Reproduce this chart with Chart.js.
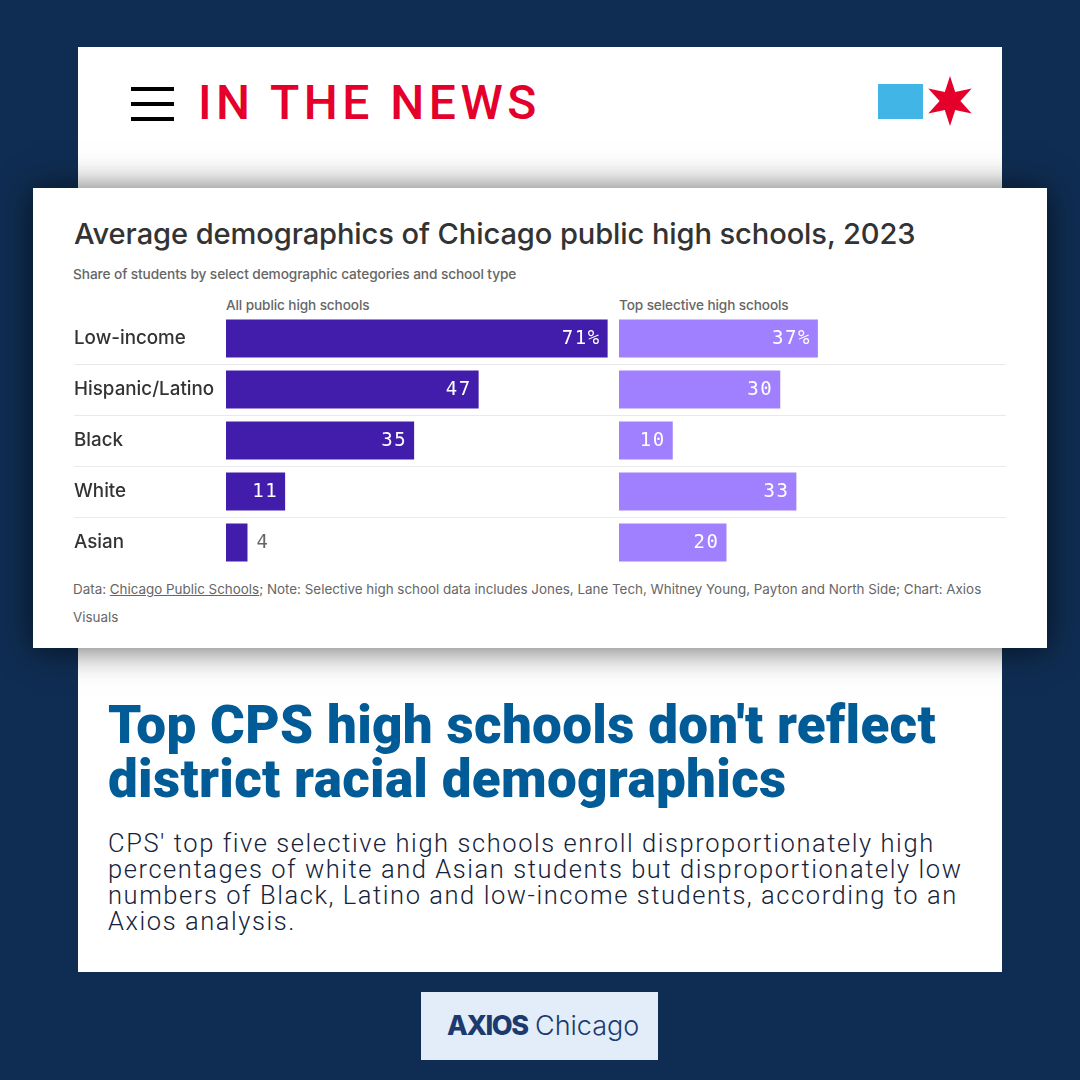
<!DOCTYPE html>
<html>
<head>
<meta charset="utf-8">
<title>Average demographics of Chicago public high schools, 2023</title>
<script src="https://cdn.jsdelivr.net/npm/chart.js@4"></script>
<style>
html, body { margin: 0; padding: 0; }
body { width: 1080px; height: 1080px; background: #0f2d52; position: relative; overflow: hidden; font-family: Inter, sans-serif; }
.abs { position: absolute; white-space: nowrap; }
#panel { left: 78px; top: 47px; width: 924px; height: 925px; background: #fff; }
.bar { left: 131px; width: 43px; height: 4px; background: #000; }
#kicker { left: 198px; top: 73px; font: 500 48px/60px Roboto, sans-serif; letter-spacing: 4.5px; color: #e4002b; }
#flag { left: 878px; top: 84px; width: 45px; height: 35px; background: #41b6e6; }
#star { left: 924px; top: 75px; }
#card { left: 33px; top: 188px; width: 1014px; height: 460px; background: #fff; box-shadow: 0 1px 32px rgba(0,0,0,.62); }
#title { left: 74px; top: 216px; font: 500 29.1px/36px Inter, sans-serif; color: #333; letter-spacing: -0.1px; }
#sub { left: 73px; top: 266px; font: 500 13.7px/17px Inter, sans-serif; color: #666; letter-spacing: -0.1px; }
.pane { top: 297px; font: 500 13.6px/17px Inter, sans-serif; color: #666; letter-spacing: -0.1px; }
.note { left: 73px; font: 400 13.4px/17px Inter, sans-serif; color: #666; }
canvas { position: absolute; }
#headline { left: 108px; top: 698px; font: 900 53px/54px Roboto, sans-serif; color: #005b96; letter-spacing: 0.3px; }
#body { left: 108px; top: 830px; font: 300 25.5px/26px Roboto, sans-serif; color: #15233a; letter-spacing: 1.57px; }
#brand { left: 421px; top: 992px; width: 237px; height: 68px; background: #e3edf9; }
#axios { left: 447px; top: 1008px; font: 800 27px/36px Inter, sans-serif; letter-spacing: -1.4px; color: #1c3a6e; }
#city { left: 535px; top: 1008px; font: 300 27px/36px Inter, sans-serif; color: #1c3a6e; }
</style>
</head>
<body>
<div class="abs" id="panel"></div>
<div class="abs bar" style="top:87px"></div>
<div class="abs bar" style="top:102px"></div>
<div class="abs bar" style="top:117px"></div>
<div class="abs" id="kicker">IN THE NEWS</div>
<div class="abs" id="flag"></div>
<svg class="abs" id="star" width="52" height="52" viewBox="-26 -26 52 52">
  <polygon fill="#e4002b" points="0,-25 5.2,-9 21.7,-12.5 10.4,0 21.7,12.5 5.2,9 0,25 -5.2,9 -21.7,12.5 -10.4,0 -21.7,-12.5 -5.2,-9"/>
</svg>

<div class="abs" id="card"></div>
<div class="abs" id="title">Average demographics of Chicago public high schools, 2023</div>
<div class="abs" id="sub">Share of students by select demographic categories and school type</div>
<div class="abs pane" style="left:226px">All public high schools</div>
<div class="abs pane" style="left:619px">Top selective high schools</div>
<canvas id="allChart" width="539" height="255" style="left:74px;top:313px"></canvas>
<canvas id="topChart" width="393" height="255" style="left:613px;top:313px"></canvas>
<div class="abs note" style="top:581px">Data: <u>Chicago Public Schools</u>; Note: Selective high school data includes Jones, Lane Tech, Whitney Young, Payton and North Side; Chart: Axios</div>
<div class="abs note" style="top:609px">Visuals</div>

<div class="abs" id="headline">Top CPS high schools don't reflect<br>district racial demographics</div>
<div class="abs" id="body">CPS' top five selective high schools enroll disproportionately high<br>percentages of white and Asian students but disproportionately low<br>numbers of Black, Latino and low-income students, according to an<br>Axios analysis.</div>

<div class="abs" id="brand"></div>
<div class="abs" id="axios">AXIOS</div>
<div class="abs" id="city">Chicago</div>

<script>
var categories = ['Low-income', 'Hispanic/Latino', 'Black', 'White', 'Asian'];
var allSchools = [71, 47, 35, 11, 4];
var topSchools = [37, 30, 10, 33, 20];

// white label inside the bar, grey label beside it when the bar is too short
var barLabels = {
    id: 'barLabels',
    afterDatasetsDraw: function(chart) {
        var ctx = chart.ctx;
        var bars = chart.getDatasetMeta(0).data;
        var values = chart.data.datasets[0].data;
        ctx.save();
        ctx.font = '500 19px "DejaVu Sans Mono", monospace';
        ctx.letterSpacing = '1.5px';
        ctx.textBaseline = 'middle';
        bars.forEach(function(bar, i) {
            var text = i === 0 ? values[i] + '%' : String(values[i]);
            if (values[i] < 5) {
                ctx.fillStyle = '#666';
                ctx.textAlign = 'left';
                ctx.fillText(text, bar.x + 9, bar.y + 1);
            } else {
                ctx.fillStyle = '#fff';
                ctx.textAlign = 'right';
                ctx.fillText(text, bar.x - 7, bar.y + 1);
            }
        });
        ctx.restore();
    }
};

function getChartConfig(values, color, axisWidth, showLabels) {
    return {
        type: 'bar',
        data: {
            labels: categories,
            datasets: [{
                data: values,
                backgroundColor: color,
                barPercentage: 0.745,
                categoryPercentage: 1
            }]
        },
        options: {
            indexAxis: 'y',
            responsive: false,
            animation: false,
            layout: { padding: 0 },
            plugins: { legend: { display: false }, tooltip: { enabled: false } },
            scales: {
                x: { display: false, min: 0, max: 72 },
                y: {
                    // fixed gutter, and no extra room for the first and last label
                    afterFit: function(scale) {
                        scale.width = axisWidth;
                        scale.paddingTop = 0;
                        scale.paddingBottom = 0;
                    },
                    border: { display: false },
                    grid: {
                        offset: true,
                        tickLength: axisWidth,
                        color: function(c) {
                            return (c.index === 0 || c.index === categories.length) ? 'transparent' : '#e9e9ec';
                        },
                        tickColor: function(c) {
                            return (c.index === 0 || c.index === categories.length) ? 'transparent' : '#e9e9ec';
                        }
                    },
                    ticks: {
                        display: showLabels,
                        crossAlign: 'far',
                        color: '#333',
                        font: { family: 'Inter', size: 18.8, weight: '500' }
                    }
                }
            }
        },
        plugins: [barLabels]
    };
}

new Chart(document.getElementById('allChart').getContext('2d'), getChartConfig(allSchools, '#421cab', 152, true));
new Chart(document.getElementById('topChart').getContext('2d'), getChartConfig(topSchools, '#a080ff', 6, false));
</script>
</body>
</html>
